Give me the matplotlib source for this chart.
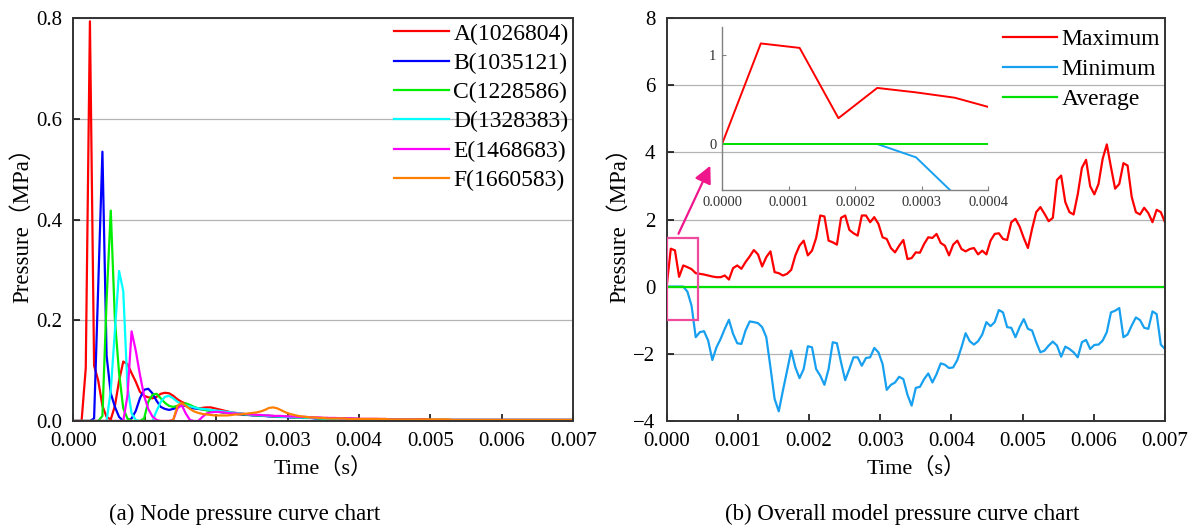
import numpy as np
import matplotlib
matplotlib.use('Agg')
import matplotlib.pyplot as plt
from matplotlib.patches import Rectangle
from matplotlib.ticker import FormatStrFormatter

plt.rcParams['font.family'] = ['Liberation Serif', 'Noto Sans CJK SC']
plt.rcParams['axes.unicode_minus'] = True

# time axis: 121 samples over 0..0.007 s
t = np.linspace(0, 0.007, 121)

# (a) node pressure, MPa
node_labels = ['A(1026804)', 'B(1035121)', 'C(1228586)', 'D(1328383)', 'E(1468683)', 'F(1660583)']
node_colors = ['#ff0000', '#0000ff', '#00ee00', '#00ffff', '#ff00ff', '#ff8000']

node_a = [0, 0, 0, 0.105, 0.794, 0.11, 0.08, 0.03, 0.008, 0.003,
          0.03, 0.08, 0.118, 0.113, 0.095, 0.078, 0.058, 0.05, 0.047, 0.045,
          0.048, 0.054, 0.056, 0.055, 0.05, 0.043, 0.038, 0.034, 0.03, 0.027,
          0.025, 0.026, 0.027, 0.027, 0.025, 0.023, 0.021, 0.019, 0.017, 0.016,
          0.015, 0.014, 0.013, 0.012, 0.012, 0.011, 0.011, 0.010, 0.010, 0.009,
          0.009, 0.009, 0.008, 0.008, 0.008, 0.007, 0.007, 0.007, 0.006, 0.006,
          0.006, 0.006, 0.005, 0.005, 0.005, 0.005, 0.005, 0.004, 0.004, 0.004,
          0.004, 0.004, 0.004, 0.004, 0.003, 0.003, 0.003, 0.003, 0.003, 0.003,
          0.003, 0.003, 0.003, 0.003, 0.003, 0.003, 0.002, 0.002, 0.002, 0.002,
          0.002, 0.002, 0.002, 0.002, 0.002, 0.002, 0.002, 0.002, 0.002, 0.002,
          0.002, 0.002, 0.002, 0.002, 0.002, 0.002, 0.002, 0.002, 0.002, 0.002,
          0.002, 0.002, 0.002, 0.002, 0.002, 0.002, 0.002, 0.002, 0.002, 0.002,
          0.002]
node_b = [0, 0, 0, 0, 0, 0.005, 0.27, 0.535, 0.13, 0.055,
          0.028, 0.008, 0.0, 0.0, 0.005, 0.02, 0.045, 0.062, 0.064, 0.055,
          0.04, 0.028, 0.024, 0.022, 0.024, 0.027, 0.031, 0.03, 0.027, 0.025,
          0.024, 0.023, 0.022, 0.02, 0.019, 0.018, 0.017, 0.016, 0.015, 0.014,
          0.013, 0.012, 0.012, 0.011, 0.011, 0.010, 0.010, 0.009, 0.009, 0.008,
          0.008, 0.008, 0.007, 0.007, 0.007, 0.006, 0.006, 0.006, 0.005, 0.005,
          0.005, 0.005, 0.005, 0.004, 0.004, 0.004, 0.004, 0.004, 0.003, 0.003,
          0.003, 0.003, 0.003, 0.003, 0.003, 0.003, 0.003, 0.003, 0.003, 0.003,
          0.003, 0.003, 0.003, 0.002, 0.002, 0.002, 0.002, 0.002, 0.002, 0.002,
          0.002, 0.002, 0.002, 0.002, 0.002, 0.002, 0.002, 0.002, 0.002, 0.002,
          0.002, 0.002, 0.002, 0.002, 0.002, 0.002, 0.002, 0.002, 0.002, 0.002,
          0.002, 0.002, 0.002, 0.002, 0.002, 0.002, 0.002, 0.002, 0.002, 0.002,
          0.002]
node_c = [0, 0, 0, 0, 0, 0, 0, 0.01, 0.24, 0.418,
          0.2, 0.095, 0.025, 0.005, 0.0, 0.0, 0.0, 0.005, 0.038, 0.052,
          0.054, 0.045, 0.036, 0.03, 0.028, 0.03, 0.033, 0.035, 0.032, 0.028,
          0.025, 0.023, 0.021, 0.02, 0.019, 0.018, 0.017, 0.016, 0.015, 0.014,
          0.014, 0.013, 0.012, 0.012, 0.011, 0.011, 0.010, 0.010, 0.009, 0.009,
          0.008, 0.008, 0.008, 0.007, 0.007, 0.007, 0.006, 0.006, 0.006, 0.005,
          0.005, 0.005, 0.005, 0.004, 0.004, 0.004, 0.004, 0.004, 0.004, 0.003,
          0.003, 0.003, 0.003, 0.003, 0.003, 0.003, 0.003, 0.003, 0.003, 0.003,
          0.003, 0.003, 0.003, 0.003, 0.002, 0.002, 0.002, 0.002, 0.002, 0.002,
          0.002, 0.002, 0.002, 0.002, 0.002, 0.002, 0.002, 0.002, 0.002, 0.002,
          0.002, 0.002, 0.002, 0.002, 0.002, 0.002, 0.002, 0.002, 0.002, 0.002,
          0.002, 0.002, 0.002, 0.002, 0.002, 0.002, 0.002, 0.002, 0.002, 0.002,
          0.002]
node_d = [0, 0, 0, 0, 0, 0, 0, 0, 0, 0.06,
          0.18, 0.298, 0.258, 0.07, 0.015, 0.002, 0.0, 0.0, 0.0, 0.0,
          0.02, 0.038, 0.048, 0.05, 0.045, 0.038, 0.034, 0.031, 0.029, 0.027,
          0.025, 0.024, 0.023, 0.022, 0.021, 0.02, 0.019, 0.018, 0.017, 0.016,
          0.015, 0.014, 0.013, 0.013, 0.012, 0.011, 0.011, 0.010, 0.010, 0.009,
          0.009, 0.008, 0.008, 0.008, 0.007, 0.007, 0.007, 0.006, 0.006, 0.006,
          0.005, 0.005, 0.005, 0.005, 0.004, 0.004, 0.004, 0.004, 0.004, 0.003,
          0.003, 0.003, 0.003, 0.003, 0.003, 0.003, 0.003, 0.003, 0.003, 0.003,
          0.003, 0.003, 0.003, 0.002, 0.002, 0.002, 0.002, 0.002, 0.002, 0.002,
          0.002, 0.002, 0.002, 0.002, 0.002, 0.002, 0.002, 0.002, 0.002, 0.002,
          0.002, 0.002, 0.002, 0.002, 0.002, 0.002, 0.002, 0.002, 0.002, 0.002,
          0.002, 0.002, 0.002, 0.002, 0.002, 0.002, 0.002, 0.002, 0.002, 0.002,
          0.002]
node_e = [0, 0, 0, 0, 0, 0, 0, 0, 0, 0,
          0, 0, 0, 0.05, 0.178, 0.14, 0.092, 0.05, 0.024, 0.009,
          0.002, 0.0, 0.0, 0.0, 0.002, 0.025, 0.032, 0.015, 0.002, 0.0,
          0.0, 0.008, 0.015, 0.017, 0.018, 0.018, 0.017, 0.016, 0.015, 0.015,
          0.014, 0.014, 0.013, 0.013, 0.012, 0.012, 0.011, 0.011, 0.010, 0.010,
          0.010, 0.009, 0.009, 0.009, 0.008, 0.008, 0.008, 0.007, 0.007, 0.007,
          0.006, 0.006, 0.006, 0.006, 0.005, 0.005, 0.005, 0.005, 0.005, 0.004,
          0.004, 0.004, 0.004, 0.004, 0.004, 0.004, 0.003, 0.003, 0.003, 0.003,
          0.003, 0.003, 0.003, 0.003, 0.003, 0.002, 0.002, 0.002, 0.002, 0.002,
          0.002, 0.002, 0.002, 0.002, 0.002, 0.002, 0.002, 0.002, 0.002, 0.002,
          0.002, 0.002, 0.002, 0.002, 0.002, 0.002, 0.002, 0.002, 0.002, 0.002,
          0.002, 0.002, 0.002, 0.002, 0.002, 0.002, 0.002, 0.002, 0.002, 0.002,
          0.002]
node_f = [0, 0, 0, 0, 0, 0, 0, 0, 0, 0,
          0, 0, 0, 0, 0, 0, 0, 0, 0, 0,
          0, 0, 0, 0, 0.002, 0.03, 0.036, 0.03, 0.024, 0.019,
          0.016, 0.014, 0.013, 0.012, 0.011, 0.011, 0.011, 0.011, 0.012, 0.013,
          0.013, 0.014, 0.015, 0.016, 0.017, 0.019, 0.022, 0.026, 0.027, 0.025,
          0.021, 0.017, 0.014, 0.012, 0.010, 0.009, 0.008, 0.007, 0.007, 0.006,
          0.006, 0.005, 0.005, 0.005, 0.005, 0.005, 0.004, 0.004, 0.004, 0.004,
          0.004, 0.004, 0.004, 0.004, 0.004, 0.004, 0.003, 0.003, 0.003, 0.003,
          0.003, 0.003, 0.003, 0.003, 0.003, 0.003, 0.003, 0.003, 0.003, 0.003,
          0.003, 0.002, 0.002, 0.002, 0.002, 0.002, 0.002, 0.002, 0.002, 0.002,
          0.002, 0.002, 0.002, 0.002, 0.002, 0.002, 0.002, 0.002, 0.002, 0.002,
          0.002, 0.002, 0.002, 0.002, 0.002, 0.002, 0.002, 0.002, 0.002, 0.002,
          0.002]
node_series = [node_a, node_b, node_c, node_d, node_e, node_f]

# (b) overall model pressure, MPa
p_max = [0, 1.13, 1.08, 0.29, 0.63, 0.58, 0.52, 0.40, 0.38, 0.36,
         0.33, 0.30, 0.28, 0.28, 0.33, 0.21, 0.55, 0.63, 0.53, 0.73,
         0.90, 1.09, 0.96, 0.60, 0.88, 1.05, 0.43, 0.40, 0.33, 0.38,
         0.50, 0.93, 1.22, 1.37, 0.93, 1.07, 1.45, 2.12, 2.09, 1.37,
         1.32, 1.25, 2.05, 2.12, 1.69, 1.59, 1.52, 2.12, 2.12, 1.92,
         2.07, 1.87, 1.47, 1.42, 1.15, 1.02, 1.22, 1.39, 0.82, 0.85,
         1.02, 1.01, 1.27, 1.47, 1.45, 1.57, 1.30, 1.22, 0.93, 1.25,
         1.37, 1.12, 1.05, 1.12, 1.15, 0.96, 1.07, 0.96, 1.37, 1.57,
         1.59, 1.42, 1.39, 1.92, 2.02, 1.79, 1.45, 1.15, 1.72, 2.22,
         2.37, 2.17, 1.95, 2.05, 3.18, 3.31, 2.52, 2.22, 2.15, 2.75,
         3.54, 3.78, 2.99, 2.75, 3.06, 3.81, 4.24, 3.56, 2.92, 3.06,
         3.68, 3.61, 2.67, 2.22, 2.15, 2.35, 2.19, 1.92, 2.29, 2.22,
         1.92]
p_min = [0, 0, 0, 0, 0, -0.15, -0.57, -1.51, -1.36, -1.33,
         -1.61, -2.19, -1.81, -1.56, -1.26, -0.99, -1.41, -1.69, -1.71, -1.31,
         -1.04, -1.06, -1.09, -1.21, -1.51, -2.41, -3.35, -3.72, -3.10, -2.51,
         -1.91, -2.41, -2.73, -2.46, -1.78, -1.81, -2.46, -2.66, -2.93, -2.46,
         -1.66, -1.69, -2.26, -2.79, -2.46, -2.11, -2.11, -2.36, -2.13, -2.11,
         -1.83, -1.96, -2.31, -3.08, -2.93, -2.86, -2.69, -2.76, -3.23, -3.55,
         -3.02, -2.99, -2.76, -2.59, -2.86, -2.61, -2.29, -2.33, -2.43, -2.41,
         -2.19, -1.81, -1.39, -1.63, -1.73, -1.63, -1.43, -1.06, -1.18, -1.06,
         -0.70, -0.77, -1.21, -1.23, -1.51, -1.21, -0.97, -1.26, -1.31, -1.66,
         -1.96, -1.91, -1.76, -1.64, -1.76, -2.09, -1.79, -1.86, -1.96, -2.11,
         -1.66, -1.59, -1.86, -1.74, -1.73, -1.61, -1.36, -0.77, -0.72, -0.64,
         -1.51, -1.43, -1.16, -0.92, -1.00, -1.23, -1.26, -0.74, -0.82, -1.73,
         -1.86]
p_avg = [0.0] * len(t)
overall_labels = ['Maximum', 'Minimum', 'Average']
overall_colors = ['#ff0000', '#18a0f0', '#00e000']

fig = plt.figure(figsize=(11.99, 5.29), dpi=100)
ax1 = fig.add_axes([0.0611, 0.2042, 0.4170, 0.7612])
ax2 = fig.add_axes([0.5560, 0.2047, 0.4156, 0.7607])

tick_fs = 15
for ax in (ax1, ax2):
    ax.grid(axis='y', color='#b4b4b4', lw=0.9)
    ax.set_axisbelow(True)
    ax.tick_params(direction='in', length=5, width=1.1, labelsize=tick_fs,
                   top=False, right=False)
    ax.tick_params(axis='x', pad=8)
    ax.tick_params(axis='y', pad=8)
    for s in ax.spines.values():
        s.set_color('#333333')
        s.set_linewidth(1.4)
    ax.set_xlim(0, 0.007)
    ax.set_xticks(np.arange(0, 0.0071, 0.001))
    ax.xaxis.set_major_formatter(FormatStrFormatter('%.3f'))
    ax.set_xlabel('Time（s）', fontsize=16, labelpad=5)
    ax.set_ylabel('Pressure（MPa）', fontsize=16.5, labelpad=2)

for vals, lab, col in zip(node_series, node_labels, node_colors):
    ax1.plot(t, vals, color=col, lw=1.6, label=lab)
ax1.set_ylim(0, 0.8)
ax1.set_yticks(np.arange(0, 0.81, 0.2))
ax1.yaxis.set_major_formatter(FormatStrFormatter('%.1f'))
ax1.legend(loc='upper right', frameon=False, fontsize=17, handlelength=2.3,
           handletextpad=0.2, labelspacing=0.33, borderaxespad=0.0,
           borderpad=0.2)

for vals, lab, col in zip([p_max, p_min, p_avg], overall_labels, overall_colors):
    ax2.plot(t, vals, color=col, lw=1.6, label=lab)
ax2.set_ylim(-4, 8)
ax2.set_yticks(np.arange(-4, 8.1, 2))
ax2.legend(loc='upper right', frameon=False, fontsize=17, handlelength=2.3,
           handletextpad=0.2, labelspacing=0.37, borderaxespad=0.0,
           borderpad=0.2, bbox_to_anchor=(1.0, 0.987))

# zoom box and arrow
ax2.add_patch(Rectangle((0, -1.0), 0.00044, 2.45, fill=False,
                        edgecolor='#f04a9c', lw=1.6, zorder=5))
ax2.annotate('', xy=(0.00063, 3.68), xytext=(0.00015, 1.5),
             arrowprops=dict(arrowstyle='-|>', color='#f0168c', lw=1.6,
                             mutation_scale=26))

# inset
axin = fig.add_axes([0.6022, 0.6408, 0.2219, 0.3087])
axin.set_facecolor('none')
for vals, col in zip([p_max, p_min, p_avg], overall_colors):
    axin.plot(t, vals, color=col, lw=1.4)
axin.set_xlim(0, 0.0004)
axin.set_ylim(-0.517, 1.318)
axin.set_xticks(np.arange(0, 0.00041, 0.0001))
axin.set_yticks([0, 1])
axin.xaxis.set_major_formatter(FormatStrFormatter('%.4f'))
axin.yaxis.set_major_formatter(FormatStrFormatter('%d'))
axin.spines['top'].set_visible(False)
axin.spines['right'].set_visible(False)
for s in ('left', 'bottom'):
    axin.spines[s].set_color('#808080')
    axin.spines[s].set_linewidth(1.0)
axin.tick_params(direction='in', length=3, width=0.8, color='#808080',
                 labelsize=10.5, labelcolor='#333333', pad=4)

fig.text(245 / 1199, 1 - 514 / 529, '(a) Node pressure curve chart',
         ha='center', va='center', fontsize=16.5)
fig.text(902 / 1199, 1 - 514 / 529, '(b) Overall model pressure curve chart',
         ha='center', va='center', fontsize=16.5)

fig.savefig('out.png', dpi=100)
